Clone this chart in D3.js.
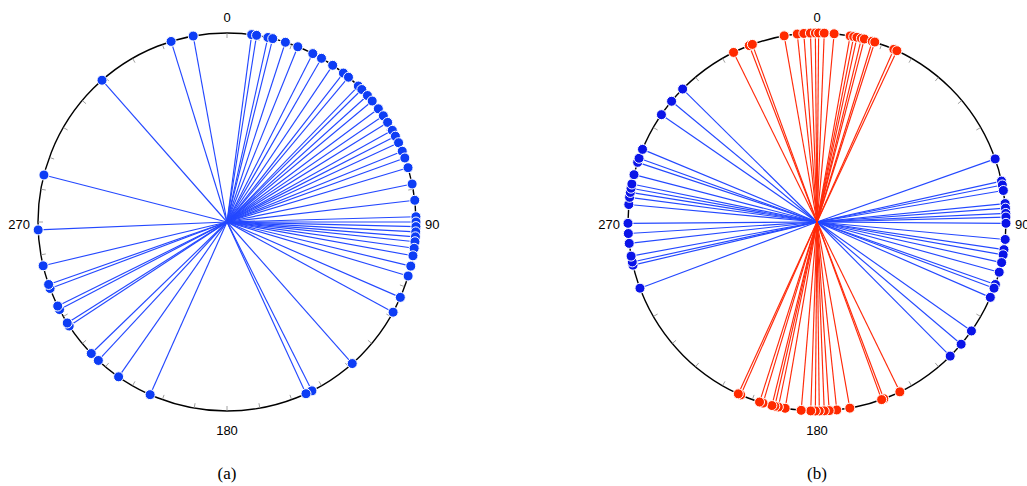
<!DOCTYPE html>
<html>
<head>
<meta charset="utf-8">
<script src="https://cdn.jsdelivr.net/npm/d3@7"></script>
<style>
  html, body { margin: 0; padding: 0; background: #fff; }
  svg { display: block; }
</style>
</head>
<body>
<svg id="chart" width="1027" height="486"></svg>
<script>
// ---- data (degrees, clockwise from top) ----
const anglesA = [7.5, 9, 12.5, 14, 18, 22, 27, 30, 34, 38, 40, 44, 45.5, 48, 50.2,
  53.2, 55.8, 58.2, 61, 63, 65.2, 68, 70.2, 73.3, 78.4, 83.4, 88.4, 90, 91.4, 93,
  94.5, 96, 98, 100.3, 103.5, 106.6, 113.5, 118.5, 138.5, 153.3, 155.3, 204, 215,
  222.9, 225.9, 236.6, 237.7, 242.4, 243.6, 249.4, 250.7, 256.6, 267.6, 284.4,
  318.6, 342.8, 349.7];
const blueB = [70.5, 77.5, 78.7, 80.4, 84.4, 85.8, 87.4, 88.5, 90.4, 95.3, 98.4,
  100, 102.4, 105.4, 109.3, 110.5, 113.5, 125.2, 130.3, 135.2,
  249.5, 256.8, 257.8, 259.6, 263.5, 266.5, 269.6, 275.3, 277.5, 279, 280.3,
  281.6, 284.5, 288.4, 289.7, 292.6, 304.6, 309.7, 314.7];
const redB = [333.8, 339, 340, 350, 354, 356, 358, 359.5, 0.5, 2.2, 5.2, 10.1,
  11.2, 12.2, 13.6, 14.5, 17, 17.8, 24, 25,
  154, 159.3, 160, 170, 174, 176.3, 177.8, 179.3, 180.5, 181.9, 184.8, 189.7,
  191.8, 192.9, 193.8, 196.6, 197.7, 203.8, 204.6];
const tickAngles = d3.range(0, 360, 10);
const labelAngles = [0, 90, 180, 270];
const captions = ["(a)", "(b)"];

// ---- layout ----
const svg = d3.select("#chart");
const R = 189;
const centers = [[227, 222], [817, 222]];
const angle = d3.scaleLinear().domain([0, 360]).range([0, 2 * Math.PI]);
const radius = d3.scaleLinear().domain([0, 1]).range([0, R]);

function pos(a, rr) {
  const t = angle(a);
  return [rr * Math.sin(t), -rr * Math.cos(t)];
}

function drawPanel(idx, layers) {
  const [cx, cy] = centers[idx];
  const g = svg.append("g").attr("transform", `translate(${cx},${cy})`);

  g.append("circle").attr("r", radius(1))
    .attr("fill", "none").attr("stroke", "#000").attr("stroke-width", 1.4);

  g.selectAll("line.tick").data(tickAngles).join("line")
    .attr("class", "tick")
    .attr("x1", d => pos(d, radius(1) - 0.5)[0])
    .attr("y1", d => pos(d, radius(1) - 0.5)[1])
    .attr("x2", d => pos(d, radius(1) - 5)[0])
    .attr("y2", d => pos(d, radius(1) - 5)[1])
    .attr("stroke", "#a0a0a0").attr("stroke-width", 1);

  const lab = g.selectAll("text.lab").data(labelAngles).join("text")
    .attr("class", "lab")
    .attr("font-family", "Liberation Sans, Arial, sans-serif")
    .attr("font-size", 13)
    .attr("fill", "#000")
    .attr("dominant-baseline", "central")
    .text(d => String(d));
  lab.each(function(d) {
    const s = d3.select(this);
    if (d === 0) s.attr("x", 0).attr("y", -radius(1) - 16).attr("text-anchor", "middle");
    if (d === 180) s.attr("x", 0).attr("y", radius(1) + 19).attr("text-anchor", "middle");
    if (d === 90) s.attr("x", radius(1) + 9).attr("y", 2).attr("text-anchor", "start");
    if (d === 270) s.attr("x", -radius(1) - 8).attr("y", 2).attr("text-anchor", "end");
  });

  layers.forEach(L => {
    g.append("g").selectAll("line").data(L.data).join("line")
      .attr("x1", 0).attr("y1", 0)
      .attr("x2", d => pos(d, radius(1))[0])
      .attr("y2", d => pos(d, radius(1))[1])
      .attr("stroke", L.line).attr("stroke-width", 1.15);
  });
  layers.forEach(L => {
    g.append("g").selectAll("circle").data(L.data).join("circle")
      .attr("cx", d => pos(d, radius(1))[0])
      .attr("cy", d => pos(d, radius(1))[1])
      .attr("r", 5)
      .attr("fill", L.fill).attr("stroke", "#fff").attr("stroke-width", 1);
  });

  svg.append("text")
    .attr("x", cx).attr("y", 479)
    .attr("text-anchor", "middle")
    .attr("font-family", "Liberation Serif, Times New Roman, serif")
    .attr("font-size", 17)
    .attr("fill", "#000")
    .text(captions[idx]);
}

drawPanel(0, [{ data: anglesA, line: "#2448ff", fill: "#0d3df5" }]);
drawPanel(1, [
  { data: blueB, line: "#2448ff", fill: "#0a14e8" },
  { data: redB, line: "#ff2a0a", fill: "#ff2a00" }
]);
</script>
</body>
</html>
